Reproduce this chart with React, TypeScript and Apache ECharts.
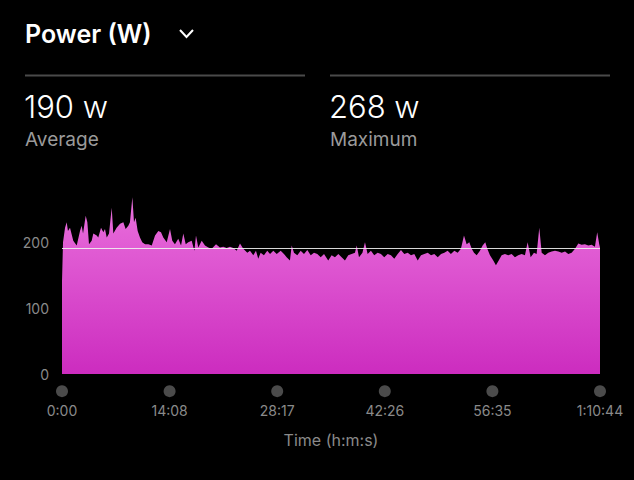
import React, { useEffect, useRef } from "react";
import * as echarts from "echarts";

const durationSec = 4244;
const tickLabels = ["0:00", "14:08", "28:17", "42:26", "56:35", "1:10:44"];
const yTickValues = [0, 100, 200];
const averageW = 190;
const maximumW = 268;

const timeSec = [
  0, 8, 24, 37, 47, 63, 89, 116, 142, 155, 166, 187, 200, 213, 234, 247, 274, 286, 308, 326,
  339, 353, 371, 392, 405, 431, 458, 484, 502, 523, 536, 555, 568, 581, 597, 615, 633, 655, 681, 708,
  734, 760, 781, 799, 826, 852, 870, 891, 917, 939, 957, 976, 996, 1023, 1044, 1057, 1075, 1102, 1128, 1154,
  1181, 1215, 1246, 1272, 1299, 1325, 1351, 1378, 1404, 1430, 1462, 1483, 1509, 1530, 1548, 1567, 1593, 1619, 1641, 1667,
  1694, 1725, 1751, 1772, 1798, 1812, 1830, 1856, 1883, 1909, 1935, 1962, 1988, 2014, 2041, 2067, 2100, 2127, 2153, 2180,
  2206, 2232, 2258, 2285, 2311, 2325, 2343, 2370, 2390, 2411, 2437, 2463, 2490, 2516, 2542, 2569, 2595, 2621, 2648, 2674,
  2700, 2727, 2753, 2779, 2806, 2832, 2858, 2885, 2911, 2937, 2964, 2990, 3016, 3042, 3068, 3095, 3121, 3147, 3171, 3192,
  3213, 3232, 3250, 3271, 3297, 3318, 3339, 3355, 3376, 3402, 3423, 3445, 3468, 3494, 3520, 3547, 3573, 3599, 3626, 3652,
  3673, 3697, 3723, 3744, 3765, 3784, 3810, 3836, 3863, 3889, 3915, 3942, 3968, 3994, 4020, 4047, 4073, 4099, 4125, 4152,
  4178, 4204, 4222, 4238, 4244,
];

const watts = [
  140, 200, 222, 230, 217, 222, 202, 195, 217, 225, 213, 240, 230, 197, 202, 213, 210, 207, 222, 215,
  220, 207, 213, 252, 213, 222, 228, 230, 220, 225, 230, 268, 230, 237, 217, 207, 200, 197, 197, 195,
  210, 217, 215, 207, 200, 220, 202, 197, 205, 195, 213, 197, 200, 202, 187, 210, 192, 202, 195, 192,
  190, 197, 192, 193, 191, 193, 191, 187, 198, 190, 184, 187, 180, 187, 175, 184, 180, 187, 182, 187,
  182, 187, 182, 177, 172, 195, 184, 180, 187, 182, 188, 180, 184, 182, 177, 182, 172, 180, 177, 182,
  177, 172, 180, 182, 184, 195, 177, 184, 200, 182, 187, 180, 184, 182, 177, 182, 180, 175, 182, 188,
  182, 184, 180, 182, 172, 180, 182, 184, 180, 182, 177, 182, 184, 187, 182, 187, 184, 190, 210, 197,
  200, 190, 184, 180, 187, 195, 200, 190, 180, 172, 165, 172, 180, 182, 180, 182, 177, 180, 182, 180,
  200, 177, 184, 182, 222, 184, 180, 184, 186, 187, 186, 184, 186, 182, 184, 190, 198, 196, 197, 195,
  196, 193, 215, 197, 192,
];

const FONT = "Inter, Roboto, 'Noto Sans', sans-serif";

export default function App() {
  const ref = useRef<HTMLDivElement>(null);

  useEffect(() => {
    if (!ref.current) return;
    const chart = echarts.init(ref.current, null, { renderer: "svg" });
    const step = durationSec / (tickLabels.length - 1);
    const tickTimes = tickLabels.map((_, i) => i * step);

    chart.setOption({
      animation: false,
      backgroundColor: "#000000",
      textStyle: { fontFamily: FONT },
      grid: { left: 62, right: 34, top: 196, bottom: 106 },
      xAxis: {
        type: "value",
        min: 0,
        max: durationSec,
        interval: step,
        name: "Time (h:m:s)",
        nameLocation: "middle",
        nameGap: 58,
        nameTextStyle: { color: "#8a8a8a", fontSize: 16, fontFamily: FONT },
        axisLine: { show: false },
        axisTick: { show: false },
        splitLine: { show: false },
        axisLabel: {
          color: "#8a8a8a",
          fontSize: 14,
          fontFamily: FONT,
          margin: 29,
          formatter: (_v: number, i: number) => tickLabels[i] ?? "",
        },
      },
      yAxis: {
        type: "value",
        min: 0,
        max: 270,
        interval: 100,
        axisLine: { show: false },
        axisTick: { show: false },
        splitLine: { show: false },
        axisLabel: {
          color: "#8a8a8a",
          fontSize: 14,
          fontFamily: FONT,
          margin: 13,
          formatter: (v: number) => (yTickValues.includes(v) ? String(v) : ""),
        },
      },
      series: [
        {
          type: "line",
          data: timeSec.map((t, i) => [t, watts[i]]),
          showSymbol: false,
          symbol: "none",
          lineStyle: { width: 0 },
          areaStyle: {
            opacity: 1,
            color: new echarts.graphic.LinearGradient(0, 0, 0, 1, [
              { offset: 0, color: "#e970dc" },
              { offset: 1, color: "#cc2cbf" },
            ]),
          },
          markLine: {
            silent: true,
            symbol: "none",
            label: { show: false },
            lineStyle: { color: "#f0f0f0", width: 1.2, type: "solid", opacity: 0.9 },
            data: [{ yAxis: averageW }],
          },
          z: 2,
        },
        {
          type: "scatter",
          data: tickTimes.map((t) => [t, -26]),
          symbol: "circle",
          symbolSize: 12,
          clip: false,
          itemStyle: { color: "#5e5e5e" },
          silent: true,
          z: 3,
        },
      ],
      graphic: [
        {
          type: "text",
          left: 25,
          top: 21,
          style: { text: "Power (W)", fill: "#ffffff", font: `600 25px ${FONT}` },
        },
        {
          type: "polyline",
          shape: { points: [[180, 30], [186.5, 37], [193, 30]] },
          style: { stroke: "#ffffff", lineWidth: 2, fill: null },
        },
        {
          type: "line",
          shape: { x1: 25, y1: 75.5, x2: 305, y2: 75.5 },
          style: { stroke: "#4a4a4a", lineWidth: 2 },
        },
        {
          type: "line",
          shape: { x1: 330, y1: 75.5, x2: 610, y2: 75.5 },
          style: { stroke: "#4a4a4a", lineWidth: 2 },
        },
        {
          type: "text",
          left: 24,
          top: 91,
          style: { text: `${averageW} w`, fill: "#ffffff", font: `300 31px ${FONT}` },
        },
        {
          type: "text",
          left: 25,
          top: 130,
          style: { text: "Average", fill: "#9a9a9a", font: `400 19px ${FONT}` },
        },
        {
          type: "text",
          left: 329,
          top: 91,
          style: { text: `${maximumW} w`, fill: "#ffffff", font: `300 31px ${FONT}` },
        },
        {
          type: "text",
          left: 330,
          top: 130,
          style: { text: "Maximum", fill: "#9a9a9a", font: `400 19px ${FONT}` },
        },
      ],
    });

    return () => chart.dispose();
  }, []);

  return (
    <div
      ref={ref}
      style={{ position: "fixed", left: 0, top: 0, width: 634, height: 480, background: "#000" }}
    />
  );
}
